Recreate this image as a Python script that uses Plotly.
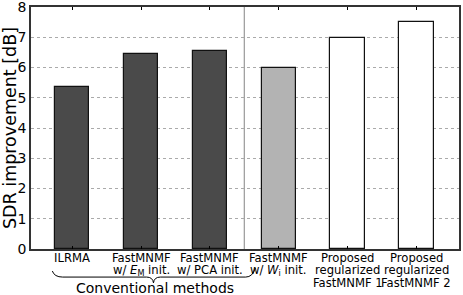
import plotly.graph_objects as go

categories = [
    "ILRMA",
    "FastMNMF<br>w/ <i>E</i><sub>M</sub> init.",
    "FastMNMF<br>w/ PCA init.",
    "FastMNMF<br>w/ <i>W</i><sub>i</sub> init.",
    "Proposed<br>regularized<br>FastMNMF 1",
    "Proposed<br>regularized<br>FastMNMF 2",
]
sdr_values = [5.37, 6.45, 6.55, 5.98, 6.96, 7.50]
bar_colors = ["#4a4a4a", "#4a4a4a", "#4a4a4a", "#b3b3b3", "#ffffff", "#ffffff"]
y_ticks = [0, 1, 2, 3, 4, 5, 6, 7, 8]
group_label = "Conventional methods"

xs = list(range(len(categories)))

fig = go.Figure()
fig.add_trace(go.Bar(
    x=xs, y=sdr_values, width=0.5,
    marker=dict(color=bar_colors, line=dict(color="#111111", width=1.2)),
    showlegend=False,
))

font = "DejaVu Sans, sans-serif"
fig.update_layout(
    width=463, height=295,
    margin=dict(l=31, r=4, t=7, b=46),
    plot_bgcolor="white", paper_bgcolor="white",
    font=dict(family=font, color="black"),
    bargap=0,
)
fig.update_xaxes(
    range=[-0.6, 5.62], tickvals=xs, ticktext=["" for _ in xs], tickangle=0,
    ticks="inside", ticklen=3, tickcolor="black",
    showline=True, linecolor="#333333", linewidth=1.5, mirror="ticks",
    showgrid=False, zeroline=False, automargin=False,
)
fig.update_yaxes(
    range=[0, 8], tickvals=y_ticks, tickfont=dict(size=14),
    ticklabeloverflow="allow",
    title=dict(text="SDR improvement [dB]", font=dict(size=17.5), standoff=4),
    showline=True, linecolor="#333333", linewidth=1.5, mirror=True,
    showgrid=True, gridcolor="#aaaaaa", griddash="dot", gridwidth=1,
    zeroline=False, ticks="", ticklen=0, automargin=False,
)

# category labels, one annotation per line (tight line spacing)
plot_h = 295 - 7 - 46
line_px = [9, 21.3, 33.6]
for xi, label in zip(xs, categories):
    for li, line in enumerate(label.split("<br>")):
        fig.add_annotation(x=xi, y=-line_px[li] / plot_h, xref="x", yref="paper",
                           text=line, showarrow=False, yanchor="middle",
                           font=dict(size=11.6, family=font), xanchor="center",
                           borderpad=0)

# separator line
fig.add_shape(type="line", xref="x", yref="paper", x0=2.5, x1=2.5, y0=0, y1=1,
              line=dict(color="#999999", width=1.2), layer="below")

# brace under conventional methods
brace = ("M -0.29,-0.091 Q -0.26,-0.116 -0.14,-0.116 L 1.08,-0.116 "
         "Q 1.17,-0.116 1.18,-0.14 Q 1.19,-0.116 1.28,-0.116 L 2.52,-0.116 "
         "Q 2.62,-0.116 2.66,-0.079")
fig.add_shape(type="path", xref="x", yref="paper", path=brace,
              line=dict(color="black", width=1))

fig.add_annotation(x=1.2, y=-0.163, xref="x", yref="paper", text=group_label,
                   showarrow=False, font=dict(size=14, family=font),
                   yanchor="middle")

fig.write_html("out.html", config={"displayModeBar": False},
               post_script="document.body.style.margin='0';document.body.style.overflow='hidden';")
